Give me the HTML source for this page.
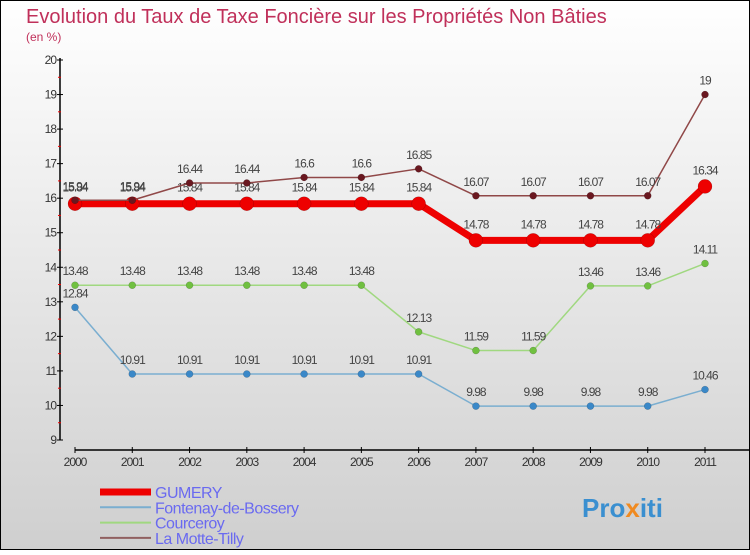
<!DOCTYPE html>
<html><head><meta charset="utf-8"><style>
body{margin:0;width:750px;height:550px;overflow:hidden;font-family:"Liberation Sans",sans-serif}
</style></head><body>
<svg id="c" width="750" height="550" xmlns="http://www.w3.org/2000/svg">
<defs><linearGradient id="bg" x1="0" y1="0" x2="0" y2="1"><stop offset="0" stop-color="#ffffff"/><stop offset="1" stop-color="#cfcfcf"/></linearGradient></defs>
<rect x="0.5" y="0.5" width="749" height="549" fill="url(#bg)" stroke="#000"/>
<text x="26" y="23" font-size="20" fill="#c0305a">Evolution du Taux de Taxe Foncière sur les Propriétés Non Bâties</text>
<text x="26" y="41" font-size="12" fill="#c0305a">(en %)</text>
<g id="axes"></g><g id="series"></g><g id="legend"></g>
<text x="582" y="517" font-size="26" font-weight="bold" fill="#3a8fd0">Pro<tspan fill="#f08a20">x</tspan>iti</text>
</svg>
<script>
const years=[2000,2001,2002,2003,2004,2005,2006,2007,2008,2009,2010,2011];
const yTicks=[9,10,11,12,13,14,15,16,17,18,19,20];
const gumery=[15.84,15.84,15.84,15.84,15.84,15.84,15.84,14.78,14.78,14.78,14.78,16.34];
const fontenay=[12.84,10.91,10.91,10.91,10.91,10.91,10.91,9.98,9.98,9.98,9.98,10.46];
const courceroy=[13.48,13.48,13.48,13.48,13.48,13.48,12.13,11.59,11.59,13.46,13.46,14.11];
const motte=[15.94,15.94,16.44,16.44,16.6,16.6,16.85,16.07,16.07,16.07,16.07,19];
const NS="http://www.w3.org/2000/svg";
const X=i=>75+i*(630/11);
const Y=v=>60+(20-v)*(380/11);
function mk(t,a,p){const e=document.createElementNS(NS,t);for(const k in a)e.setAttribute(k,a[k]);p.appendChild(e);return e;}
const ax=document.getElementById('axes');
let l=mk('line',{x1:60,y1:58,x2:60,y2:440,stroke:'#000','stroke-width':1.5},ax);

l=mk('line',{x1:75,y1:450,x2:750,y2:450,stroke:'#000','stroke-width':1.5},ax);

yTicks.forEach(v=>{
 mk('line',{x1:57,y1:Y(v),x2:63,y2:Y(v),stroke:'#000'},ax);
 if(v<20)mk('line',{x1:58,y1:Y(v+0.5),x2:61,y2:Y(v+0.5),stroke:'#e00'},ax);
 const t=mk('text',{x:56,y:Y(v)+4,'font-size':12,'text-anchor':'end',fill:'#333','letter-spacing':'-1'},ax);t.textContent=v;
 
});
years.forEach((y,i)=>{
 mk('line',{x1:X(i),y1:447,x2:X(i),y2:453,stroke:'#000'},ax);
 const t=mk('text',{x:X(i),y:466,'font-size':12,'text-anchor':'middle',fill:'#333','letter-spacing':'-1'},ax);t.textContent=y;
 
});
const sg=document.getElementById('series');
function series(vals,color,dot,w,r,name,lblDy){
 const g=mk('g',{},sg);
 const p=mk('polyline',{points:vals.map((v,i)=>X(i)+','+Y(v)).join(' '),fill:'none',stroke:color,'stroke-width':w,'stroke-linejoin':'round'},g);
 
 vals.forEach((v,i)=>{
  const c=mk('circle',{cx:X(i),cy:Y(v),r:r,fill:dot,stroke:'#0004','stroke-width':0.5},g);
  
  const t=mk('text',{x:X(i),y:Y(v)+lblDy,'font-size':12,'text-anchor':'middle',fill:'#444','letter-spacing':'-1'},g);t.textContent=v;
  
 });
}
series(fontenay,'#7aaed0','#3a88c8',1.5,3.5,'fontenay',-10);
series(courceroy,'#a0d880','#70c040',1.5,3.5,'courceroy',-10);
series(gumery,'#ee0000','#ee0000',7,7,'gumery',-12);
series(motte,'#904848','#6a1820',1.5,3.5,'la-motte-tilly',-10);
const lg=document.getElementById('legend');
[['GUMERY','#ee0000',7],['Fontenay-de-Bossery','#7aaed0',2],['Courceroy','#a0d880',2],['La Motte-Tilly','#906060',2]].forEach((d,i)=>{
 const y=492+i*15.3;
 const g=mk('g',{},lg);
 mk('line',{x1:100,y1:y,x2:151,y2:y,stroke:d[1],'stroke-width':d[2]},g);
 const t=mk('text',{x:155,y:y+6,'font-size':16,fill:'#6a6af0','letter-spacing':'-0.5'},g);t.textContent=d[0];
});
</script>
</body></html>
